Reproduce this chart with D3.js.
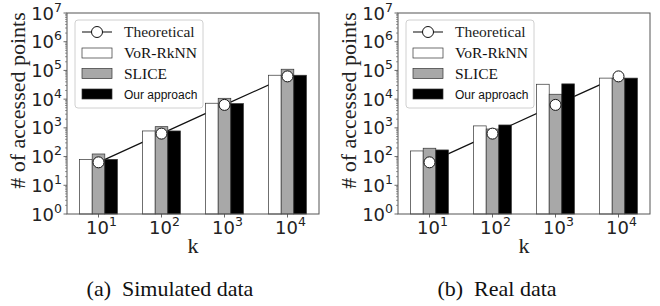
<!DOCTYPE html>
<html>
<head>
<meta charset="utf-8">
<script src="https://cdn.jsdelivr.net/npm/d3@7"></script>
<style>
  body { margin: 0; background: #fff; }
  svg { display: block; }
</style>
</head>
<body>
<svg id="chart" width="660" height="306"></svg>
<script>
// categories (k, as exponents of 10) and y tick exponents
const kLabels = ["1", "2", "3", "4"]
const yExps = [0, 1, 2, 3, 4, 5, 6, 7]

// (a) Simulated data
const simTheoretical = [63, 630, 6300, 62000]
const simVoR = [80, 780, 7200, 68000]
const simSlice = [123, 1100, 10700, 110000]
const simOurs = [80, 780, 7000, 68000]

// (b) Real data
const realTheoretical = [63, 630, 6300, 62000]
const realVoR = [157, 1170, 33000, 54000]
const realSlice = [195, 910, 14800, 54000]
const realOurs = [170, 1260, 34000, 54000]

const SERIES = [
  {name: "VoR-RkNN", fill: "#ffffff"},
  {name: "SLICE", fill: "#a8a8a8"},
  {name: "Our approach", fill: "#000000"}
]

const serif = "'Liberation Serif', 'Times New Roman', serif"
const sans = "'DejaVu Sans', sans-serif"

const svg = d3.select("#chart")

// "10" with a raised exponent
function powLabel(sel) {
  sel.append("tspan").text("10")
  sel.append("tspan").attr("dy", -8).attr("font-size", 12.5).text(d => d)
}

function drawPanel(left, caption, captionX, theo, bars) {
  const margin = {top: 13, left: left}
  const width = 252, height = 201
  const g = svg.append("g").attr("transform", "translate(" + margin.left + "," + margin.top + ")")

  const x = d3.scaleBand().domain(kLabels).range([0, width])
  const y = d3.scaleLog().domain([1, 1e7]).range([height, 0])
  const bw = x.bandwidth() * 0.2

  // y axis: minor + major ticks
  const minor = []
  for (let e = 0; e < 7; e++) for (let m = 2; m <= 9; m++) minor.push(m * Math.pow(10, e))
  g.append("g").selectAll("line").data(minor).join("line")
    .attr("x1", -2).attr("x2", 0)
    .attr("y1", d => y(d)).attr("y2", d => y(d))
    .attr("stroke", "#555").attr("stroke-width", 0.6)
  const yAxis = g.append("g")
  yAxis.selectAll("line").data(yExps).join("line")
    .attr("x1", -3.5).attr("x2", 0)
    .attr("y1", d => y(Math.pow(10, d))).attr("y2", d => y(Math.pow(10, d)))
    .attr("stroke", "#444").attr("stroke-width", 0.8)
  yAxis.selectAll("text").data(yExps).join("text")
    .attr("x", -5).attr("y", d => y(Math.pow(10, d)) + 6.5)
    .attr("text-anchor", "end")
    .attr("font-family", sans).attr("font-size", 18).attr("fill", "#222")
    .call(powLabel)

  // x axis ticks
  const xAxis = g.append("g").attr("transform", "translate(0," + height + ")")
  xAxis.selectAll("line").data(kLabels).join("line")
    .attr("x1", d => x(d) + x.bandwidth() / 2).attr("x2", d => x(d) + x.bandwidth() / 2)
    .attr("y1", 0).attr("y2", 3.5)
    .attr("stroke", "#444").attr("stroke-width", 0.8)
  xAxis.selectAll("text").data(kLabels).join("text")
    .attr("x", d => x(d) + x.bandwidth() / 2 + 3).attr("y", 20)
    .attr("text-anchor", "middle")
    .attr("font-family", sans).attr("font-size", 18).attr("fill", "#222")
    .call(powLabel)

  // theoretical line (behind bars)
  const cx = (d, i) => x(kLabels[i]) + x.bandwidth() / 2
  g.append("path")
    .datum(theo)
    .attr("fill", "none").attr("stroke", "#111").attr("stroke-width", 1.2)
    .attr("d", d3.line().x(cx).y(d => y(d)))

  // bars
  bars.forEach((vals, s) => {
    g.append("g").selectAll("rect").data(vals).join("rect")
      .attr("x", (d, i) => x(kLabels[i]) + x.bandwidth() / 2 - 1.5 * bw + s * bw)
      .attr("y", d => y(d))
      .attr("width", bw)
      .attr("height", d => height - y(d))
      .attr("fill", SERIES[s].fill)
      .attr("stroke", "#333").attr("stroke-width", 0.7)
  })

  // theoretical markers
  g.append("g").selectAll("circle").data(theo).join("circle")
    .attr("cx", cx).attr("cy", d => y(d)).attr("r", 5.5)
    .attr("fill", "#fff").attr("stroke", "#111").attr("stroke-width", 1)

  // frame
  g.append("rect").attr("width", width).attr("height", height)
    .attr("fill", "none").attr("stroke", "#555").attr("stroke-width", 1)

  // legend
  const lg = g.append("g").attr("transform", "translate(8,7)")
  lg.append("rect").attr("width", 128).attr("height", 88).attr("rx", 3)
    .attr("fill", "#fff").attr("fill-opacity", 0.8).attr("stroke", "#d0d0d0")
  lg.append("line").attr("x1", 7).attr("x2", 37).attr("y1", 12).attr("y2", 12)
    .attr("stroke", "#333").attr("stroke-width", 1.2)
  lg.append("circle").attr("cx", 22).attr("cy", 12).attr("r", 5.5)
    .attr("fill", "#fff").attr("stroke", "#111")
  lg.append("text").attr("x", 49).attr("y", 17)
    .attr("font-family", serif).attr("font-size", 15.5).attr("fill", "#222").text("Theoretical")
  SERIES.forEach((s, i) => {
    const yy = 33 + i * 20.5
    lg.append("rect").attr("x", 7).attr("y", yy - 5).attr("width", 30).attr("height", 10)
      .attr("fill", s.fill).attr("stroke", "#333").attr("stroke-width", 0.7)
    lg.append("text").attr("x", 49).attr("y", yy + 5)
      .attr("font-family", i == 2 ? "'Liberation Sans', Arial, sans-serif" : serif)
      .attr("font-size", i == 2 ? 12 : 15.5).attr("fill", "#111").text(s.name)
  })

  // axis titles
  g.append("text")
    .attr("transform", "translate(" + (-42) + "," + (height / 2 - 13) + ") rotate(-90)")
    .attr("text-anchor", "middle")
    .attr("font-family", serif).attr("font-size", 22).attr("fill", "#222")
    .text("# of accessed points")
  g.append("text").attr("x", width / 2).attr("y", 253 - margin.top)
    .attr("text-anchor", "middle")
    .attr("font-family", serif).attr("font-size", 22).attr("fill", "#222")
    .text("k")

  // caption
  svg.append("text").attr("x", captionX).attr("y", 296)
    .attr("text-anchor", "middle")
    .attr("font-family", serif).attr("font-size", 22).attr("fill", "#111")
    .attr("xml:space", "preserve")
    .text(caption)
}

drawPanel(67, "(a)  Simulated data", 170, simTheoretical, [simVoR, simSlice, simOurs])
drawPanel(398, "(b)  Real data", 497, realTheoretical, [realVoR, realSlice, realOurs])
</script>
</body>
</html>
